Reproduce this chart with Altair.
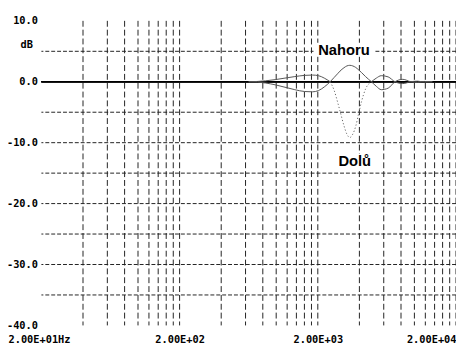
import altair as alt
import pandas as pd

# ---------------- data ----------------
freq_hz = [632, 732, 835, 983, 1158, 1364, 1606, 1830, 2020, 2228, 2458, 2625, 2802, 2895,
           3092, 3247, 3410, 3582, 3763, 3952, 4150, 4430, 4888, 5304, 5758, 6458, 7238,
           8253, 9407, 10550, 11828, 13488]
nahoru_db = [0, -0.05, -0.2, -0.5, -0.9, -1.3, -1.6, -1.65, -1.45, -0.85, 0, 0.7, 1.4, 1.75,
             2.3, 2.6, 2.7, 2.6, 2.35, 1.95, 1.5, 0.85, 0, -0.75, -1.3, -1.05, 0,
             0.4, 0, -0.12, 0.05, 0]
dolu_db = [0, 0.05, 0.15, 0.35, 0.6, 0.85, 1.05, 1.1, 1.0, 0.6, 0, -1.4, -3.6, -4.8,
           -7.2, -8.6, -9.15, -8.6, -7.3, -5.2, -3.2, -1.2, 0, 0.6, 1.0, 0.8, 0,
           -0.3, 0, 0.1, -0.05, 0]
dip_start_hz = 2458
dip_end_hz = 4888

y_tick_values = [-40, -30, -20, -10, 0, 10]
h_grid_db = [5, -5, -10, -15, -20, -25, -30, -35]
v_grid_hz = [40, 60, 80, 100, 120, 140, 160, 180, 200,
             400, 600, 800, 1000, 1200, 1400, 1600, 1800, 2000,
             4000, 6000, 8000, 10000, 12000, 14000, 16000, 18000, 20000]
x_tick_values = [20, 200, 2000, 20000]
x_tick_labels = ["2.00E+01Hz", "2.00E+02", "2.00E+03", "2.00E+04"]
unit_label = "dB"

ann_text = ["Nahoru", "Dolů"]
ann_hz = [3092, 3700]
ann_db = [5.25, -13.1]

# ---------------- tables ----------------
rows = []
for f, a in zip(freq_hz, nahoru_db):
    rows.append({"f": f, "db": a, "curve": "Nahoru", "seg": "N", "style": "solid"})
for f, b in zip(freq_hz, dolu_db):
    if f <= dip_start_hz:
        rows.append({"f": f, "db": b, "curve": "Dolů", "seg": "D1", "style": "solid"})
    if dip_start_hz <= f <= dip_end_hz:
        rows.append({"f": f, "db": b, "curve": "Dolů", "seg": "D2", "style": "dot"})
    if f >= dip_end_hz:
        rows.append({"f": f, "db": b, "curve": "Dolů", "seg": "D3", "style": "solid"})
curves = pd.DataFrame(rows)

hgrid = pd.DataFrame({"db": h_grid_db})
vgrid = pd.DataFrame({"f": v_grid_hz})
ann = pd.DataFrame({"text": ann_text, "f": ann_hz, "db": ann_db})
unit = pd.DataFrame({"text": [unit_label]})

label_expr = " : ".join(
    [f"datum.value == {v} ? '{t}'" for v, t in zip(x_tick_values, x_tick_labels)] + ["''"]
)

MONO = "DejaVu Sans Mono"

xscale = alt.Scale(type="log", domain=[20, 20000], nice=False)
yscale = alt.Scale(domain=[-40, 10], nice=False, zero=False)

xaxis = alt.Axis(
    values=x_tick_values, labelExpr=label_expr, grid=False, ticks=False, domain=False,
    labelFont=MONO, labelFontWeight="bold", labelFontSize=10.5, labelColor="black",
    labelPadding=9, title=None, labelFlush=False,
    labelAlign={"condition": [{"test": "datum.value <= 20", "value": "left"},
                              {"test": "datum.value >= 20000", "value": "right"}],
                "value": "center"},
    labelOffset={"condition": {"test": "datum.value <= 20", "value": -34}, "value": 0},
)
yaxis = alt.Axis(
    values=y_tick_values, grid=False, ticks=False, domain=False,
    labelExpr="datum.value < 0 ? '-' + format(-datum.value, '.1f') : format(datum.value, '.1f')",
    labelFont=MONO, labelFontWeight="bold", labelFontSize=10.5, labelColor="black",
    labelPadding=4, title=None,
)

h_lines = alt.Chart(hgrid).mark_rule(color="#222", strokeWidth=1, strokeDash=[4, 2]).encode(
    y=alt.Y("db:Q", scale=yscale, axis=yaxis)
)
v_lines = alt.Chart(vgrid).mark_rule(color="#222", strokeWidth=1, strokeDash=[6, 3]).encode(
    x=alt.X("f:Q", scale=xscale, axis=xaxis)
)
zero_line = alt.Chart(hgrid).mark_rule(color="black", strokeWidth=1).encode(
    y=alt.datum(0, scale=yscale)
)

solid = alt.Chart(curves).transform_filter(alt.datum.style == "solid").mark_line(
    color="#555", strokeWidth=1, interpolate="monotone"
).encode(
    x=alt.X("f:Q", scale=xscale), y=alt.Y("db:Q", scale=yscale), detail="seg:N", order="f:Q"
)
dotted = alt.Chart(curves).transform_filter(alt.datum.style == "dot").mark_line(
    color="#666", strokeWidth=1, interpolate="monotone", strokeDash=[1.2, 2.2]
).encode(
    x=alt.X("f:Q", scale=xscale), y=alt.Y("db:Q", scale=yscale), detail="seg:N", order="f:Q"
)

box_n = alt.Chart(ann).transform_filter(alt.datum.text == "Nahoru").mark_point(
    shape="M-1,-0.23L1,-0.23L1,0.23L-1,0.23Z", filled=True, fill="white",
    opacity=1, size=3844
).encode(x=alt.X("f:Q", scale=xscale), y=alt.Y("db:Q", scale=yscale))
box_d = alt.Chart(ann).transform_filter(alt.datum.text == "Dolů").mark_point(
    shape="M-1,-0.36L1,-0.36L1,0.36L-1,0.36Z", filled=True, fill="white",
    opacity=1, size=1936
).encode(x=alt.X("f:Q", scale=xscale), y=alt.Y("db:Q", scale=yscale))

ann_txt = alt.Chart(ann).mark_text(
    font="Liberation Sans", fontWeight="bold", fontSize=15, color="black",
    align="center", baseline="middle"
).encode(x=alt.X("f:Q", scale=xscale), y=alt.Y("db:Q", scale=yscale), text="text:N")

unit_txt = alt.Chart(unit).mark_text(
    font=MONO, fontWeight="bold", fontSize=10.5, color="black", align="center", baseline="middle"
).encode(x=alt.value(-15), y=alt.value(24.5), text="text:N")

chart = alt.layer(
    h_lines, v_lines, zero_line, solid, dotted, box_n, box_d, ann_txt, unit_txt
).properties(
    width=422, height=310,
    autosize=alt.AutoSizeParams(type="none"),
    padding={"left": 34, "top": 10, "right": 0, "bottom": 25},
    background="white",
).configure_view(stroke=None)

chart.save("out.html", embed_options={"renderer": "svg", "actions": False})
